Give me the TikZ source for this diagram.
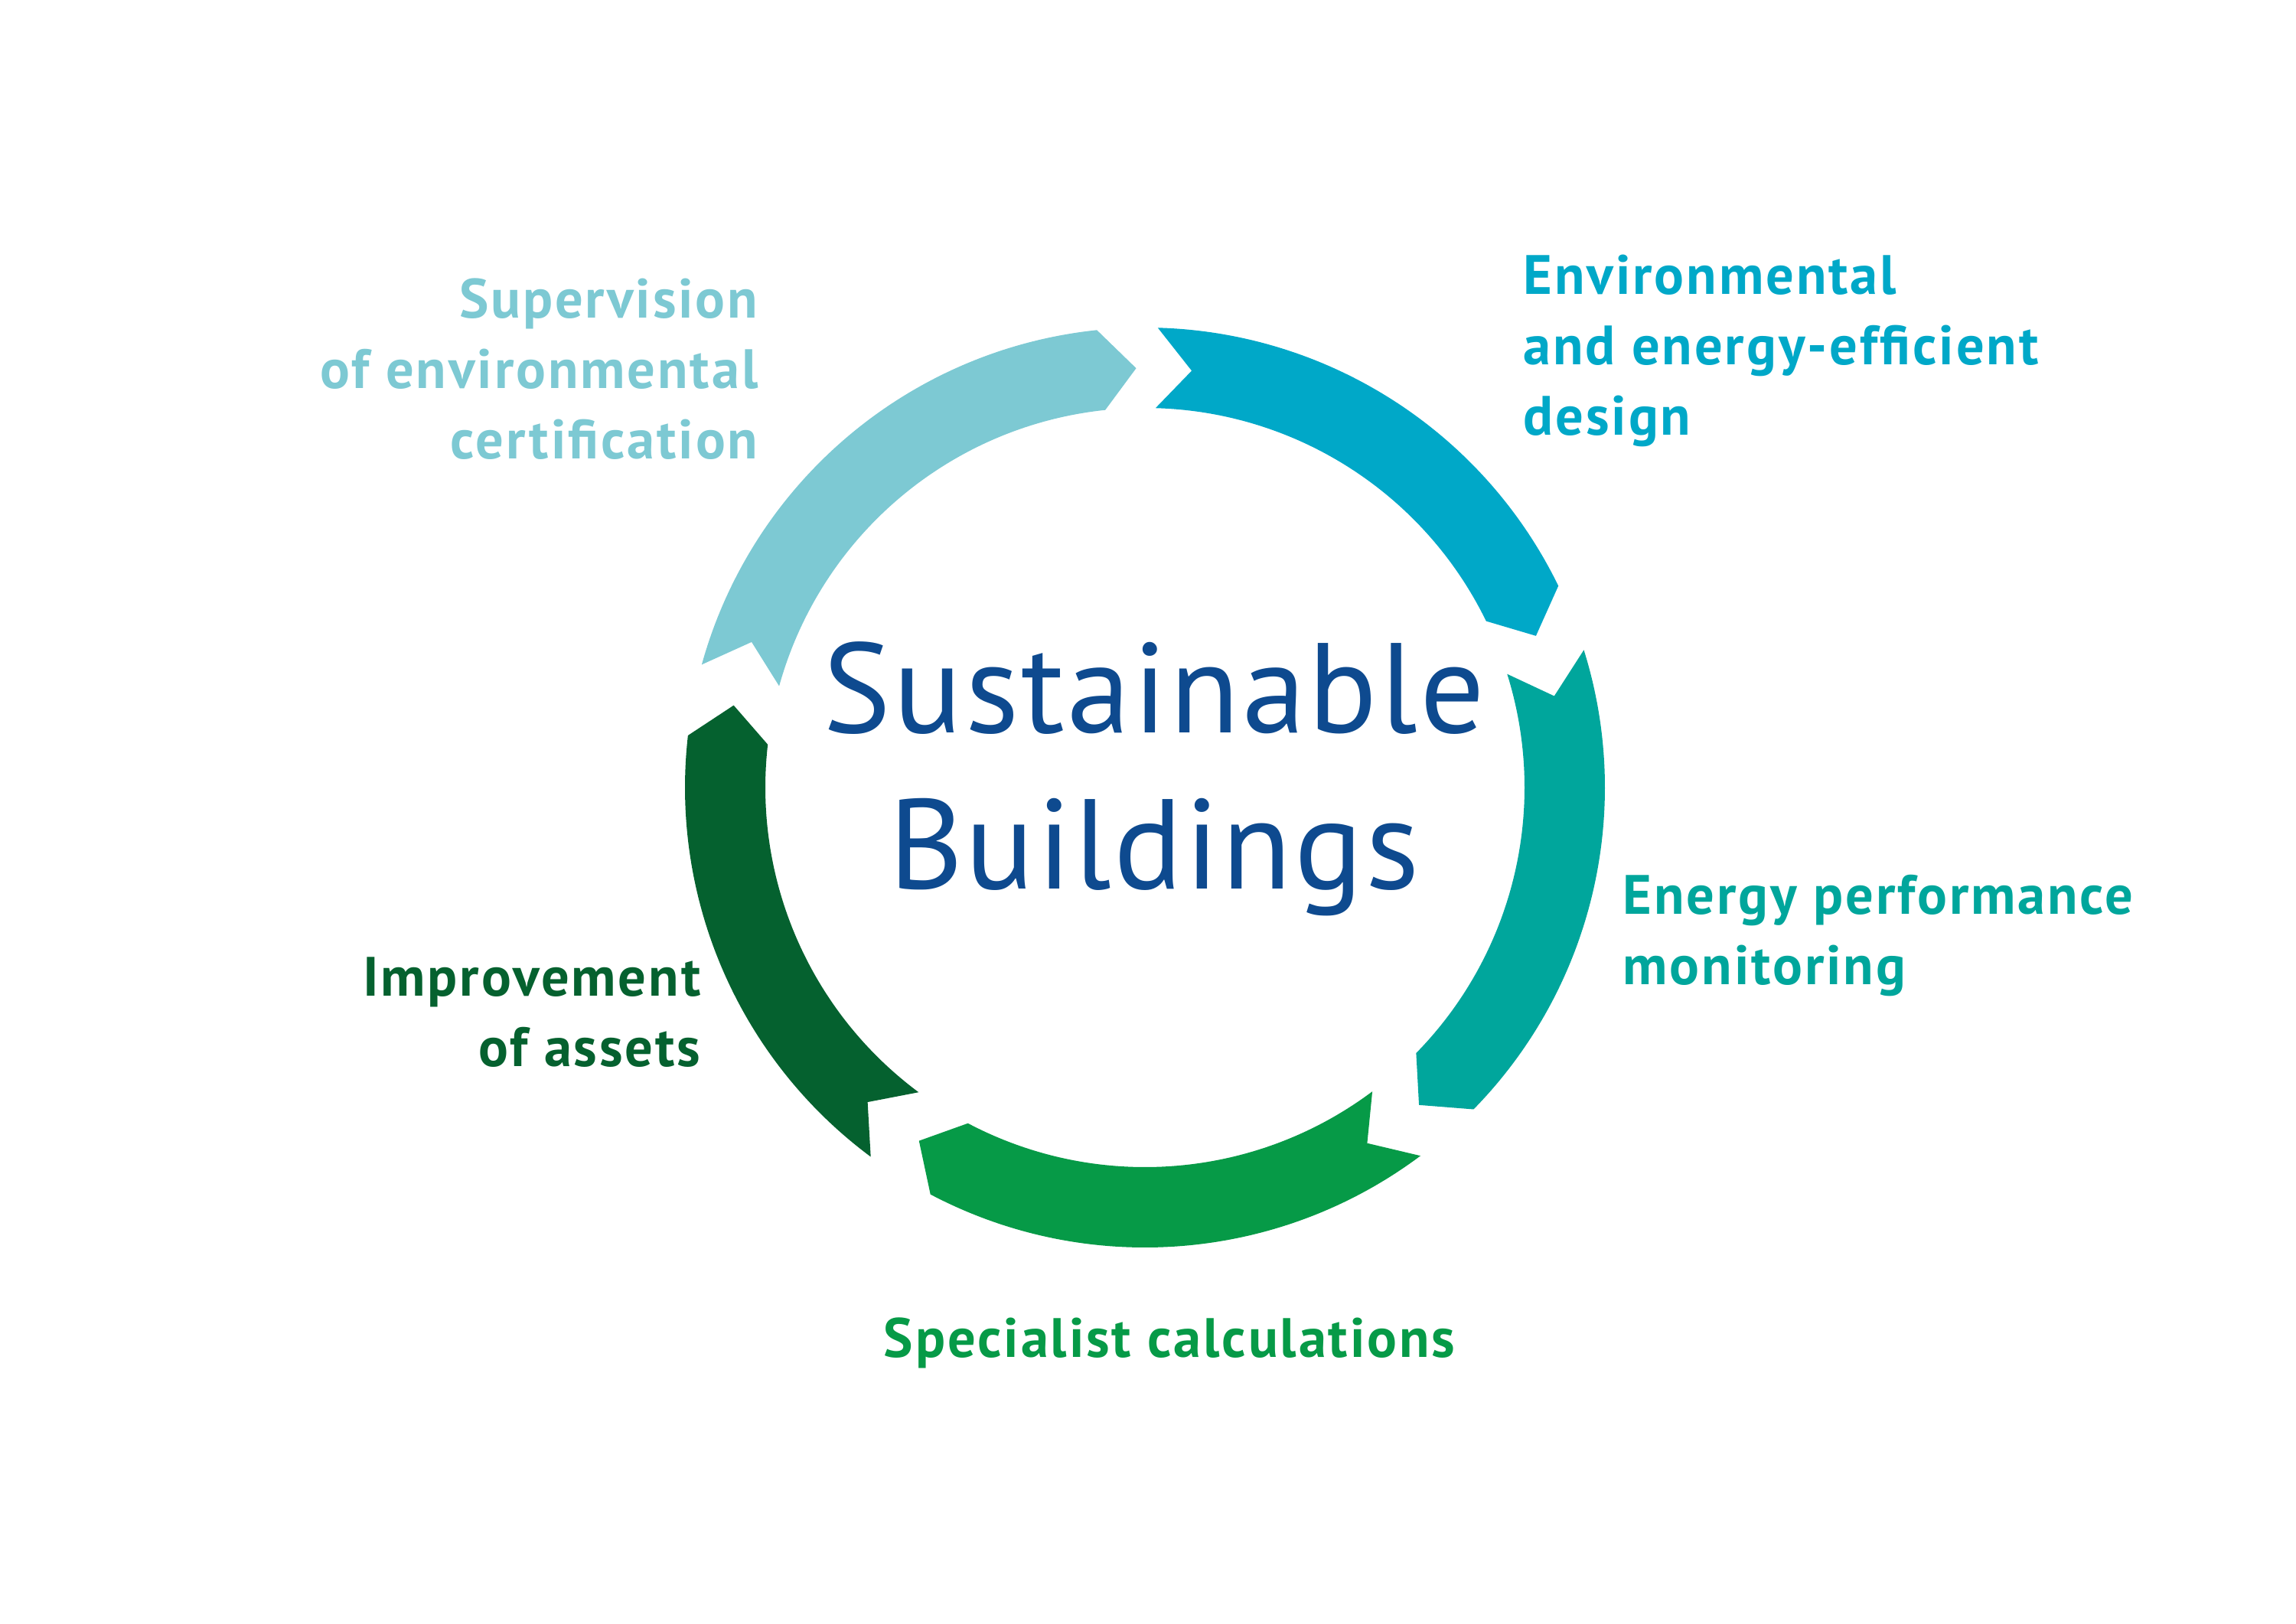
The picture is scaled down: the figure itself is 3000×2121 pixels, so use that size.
\documentclass[tikz,border=0pt]{standalone}
\usepackage{fontspec}
\setmainfont{PT Sans}
\usepackage{tikz}
\definecolor{certblue}{HTML}{7DC9D3}
\definecolor{designblue}{HTML}{00A8C8}
\definecolor{monteal}{HTML}{00A69C}
\definecolor{calcgreen}{HTML}{069A47}
\definecolor{assetgreen}{HTML}{05612F}
\definecolor{titleblue}{HTML}{0E4A8F}

\begin{document}
\begin{tikzpicture}[x=0.01cm,y=0.01cm,yscale=-1,
  lbl/.style={inner sep=0pt,font=\fontsize{20.6}{26.1}\selectfont\bfseries\addfontfeature{LetterSpace=4}},
  title/.style={inner sep=0pt,align=center,text=titleblue,font=\fontsize{47.5}{58}\selectfont\addfontfeature{LetterSpace=2}}]
\useasboundingbox (0,0) rectangle (3000,2121);

\coordinate (hub) at (1496,1029);

\begin{scope}[shift={(hub)}]
%Arc Arrow [supervision]
\fill [certblue] (-164.5:601) arc[start angle=-164.5, end angle=-96, radius=601] -- (-91.2:548) -- (-96:496) arc[start angle=-96, end angle=-164.5, radius=496] -- (-159.7:548) -- cycle ;
%Arc Arrow [design]
\fill [designblue] (-88.4:601) arc[start angle=-88.4, end angle=-26, radius=601] -- (-21.2:548) -- (-26:496) arc[start angle=-26, end angle=-88.4, radius=496] -- (-83.6:548) -- cycle ;
%Arc Arrow [monitoring]
\fill [monteal] (-17.4:601) arc[start angle=-17.4, end angle=44.4, radius=601] -- (49.2:548) -- (44.4:496) arc[start angle=44.4, end angle=-17.4, radius=496] -- (-12.6:548) -- cycle ;
%Arc Arrow [calculations]
\fill [calcgreen] (53.2:601) arc[start angle=53.2, end angle=117.8, radius=601] -- (122.6:548) -- (117.8:496) arc[start angle=117.8, end angle=53.2, radius=496] -- (58:548) -- cycle ;
%Arc Arrow [assets]
\fill [assetgreen] (126.6:601) arc[start angle=126.6, end angle=186.5, radius=601] -- (191.3:548) -- (186.5:496) arc[start angle=186.5, end angle=126.6, radius=496] -- (131.4:548) -- cycle ;
\end{scope}

% Text Node
\node (title) at (1508,1161) [anchor=base,title] {Sustainable\\Buildings};
% Text Node
\node (cert) at (991,599) [anchor=base east,align=right,lbl,text=certblue] {Supervision\\of environmental\\certification};
% Text Node
\node (design) at (1990,568) [anchor=base west,align=left,lbl,text=designblue] {Environmental\\and energy-efficient\\design};
% Text Node
\node (monitor) at (2120,1286) [anchor=base west,align=left,lbl,text=monteal] {Energy performance\\monitoring};
% Text Node
\node (calc) at (1528,1773) [anchor=base,lbl,text=calcgreen] {Specialist calculations};
% Text Node
\node (assets) at (916,1393) [anchor=base east,align=right,lbl,text=assetgreen] {Improvement\\of assets};

\end{tikzpicture}
\end{document}
